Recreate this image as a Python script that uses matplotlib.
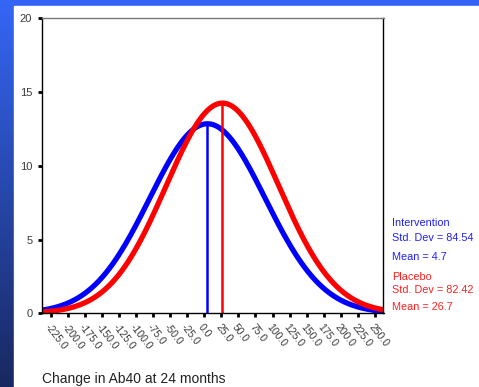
import numpy as np
import matplotlib.pyplot as plt
from matplotlib.patches import Rectangle

# group summary stats
groups = ["Intervention", "Placebo"]
means = [4.7, 26.7]
sds = [84.54, 82.42]
peaks = [12.85, 14.25]   # peak height of each fitted curve
colors = ["#0000ff", "#ff0000"]
text_colors = ["#2020ff", "#ff2020"]

tick_vals = np.arange(-225, 251, 25)
tick_labels = [f"{v:.1f}" for v in tick_vals]

W, H = 479, 387
fig = plt.figure(figsize=(W / 100, H / 100), dpi=100)
plt.rcParams['font.family'] = ['Liberation Sans', 'DejaVu Sans']

# slide background: blue frame with gradient strip on the left
bg = fig.add_axes([0, 0, 1, 1])
bg.set_axis_off()
grad = np.linspace(0, 1, 256).reshape(-1, 1)
top_c = np.array([0x35, 0x66, 0xf5]) / 255
bot_c = np.array([0x18, 0x28, 0x60]) / 255
img = top_c[None, None, :] * (1 - grad[..., None]) + bot_c[None, None, :] * grad[..., None]
bg.add_patch(Rectangle((0, 0), 1, 1, color="#3262f5", zorder=1))
bg.imshow(img, extent=[0, 14 / W, 0, 1], aspect='auto', zorder=2)
bg.add_patch(Rectangle((14 / W, 0), 1, 1 - 6 / H, color="white", zorder=3))
bg.set_xlim(0, 1)
bg.set_ylim(0, 1)

ax = fig.add_axes([42 / W, 1 - 313.3 / H, (383.5 - 42) / W, (313.3 - 18.3) / H])
ax.set_xlim(-237.5, 262.5)
ax.set_ylim(0, 20)

x = np.linspace(-237.5, 262.5, 600)
for m, s, p, c in zip(means, sds, peaks, colors):
    y = p * np.exp(-0.5 * ((x - m) / s) ** 2)
    ax.plot(x, y, color=c, lw=3.8, solid_capstyle='butt')
for m, p, c in zip(means, peaks, colors):
    ax.plot([m, m], [0, p], color=c, lw=1.8)

ax.set_yticks([0, 5, 10, 15, 20])
ax.set_xticks(tick_vals)
ax.set_xticklabels(tick_labels, rotation=-52, ha='left', va='top', rotation_mode='anchor')
ax.tick_params(axis='both', direction='out', length=3, width=2, color='black',
               labelcolor='#3a3a3a')
ax.tick_params(axis='x', pad=3, labelsize=7.5)
ax.tick_params(axis='y', pad=4, labelsize=8)
for side in ['left', 'bottom', 'right']:
    ax.spines[side].set_color('black')
    ax.spines[side].set_linewidth(1)
ax.spines['top'].set_color('#777777')
ax.spines['top'].set_linewidth(1)

# stats legend on the right
rows = [
    (groups[0], 222.7, 0), ("Std. Dev = 84.54", 238.3, 0), ("Mean = 4.7", 256.7, 0),
    (groups[1], 277.3, 1), ("Std. Dev = 82.42", 290.0, 1), ("Mean = 26.7", 307.3, 1),
]
for txt, yy, gi in rows:
    fig.text(392 / W, 1 - yy / H, txt, color=text_colors[gi], fontsize=7.8,
             ha='left', va='center')

fig.text(42 / W, 1 - 379 / H, "Change in Ab40 at 24 months", color='#222222',
         fontsize=10, ha='left', va='center')

fig.savefig("out.png", dpi=100)
